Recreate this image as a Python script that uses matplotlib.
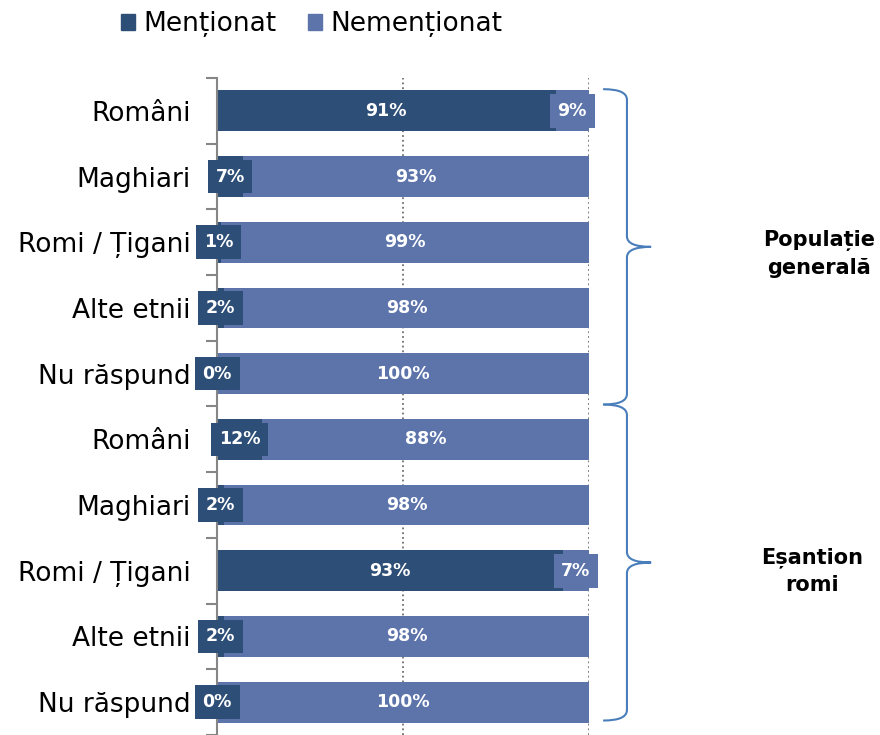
import matplotlib
matplotlib.use("Agg")
import matplotlib.pyplot as plt
from matplotlib.patches import Patch, PathPatch
from matplotlib.path import Path
import numpy as np

categories = ["Români", "Maghiari", "Romi / Țigani", "Alte etnii", "Nu răspund",
              "Români", "Maghiari", "Romi / Țigani", "Alte etnii", "Nu răspund"]
mentioned = [91, 7, 1, 2, 0, 12, 2, 93, 2, 0]
not_mentioned = [9, 93, 99, 98, 100, 88, 98, 7, 98, 100]
series_names = ["Menționat", "Nemenționat"]
group_names = ["Populație\ngenerală", "Eșantion\nromi"]

dark = "#2D4E76"
light = "#5D74AB"
brace_col = "#4A7EBB"

fig = plt.figure(figsize=(8.8, 7.35), dpi=100)
ax = fig.add_axes([217 / 880, 0.0, 372 / 880, 657 / 735])

y = np.arange(len(categories))
ax.barh(y, mentioned, height=0.62, color=dark, zorder=2)
ax.barh(y, not_mentioned, left=mentioned, height=0.62, color=light, zorder=2)

for i in range(len(categories)):
    m, n = mentioned[i], not_mentioned[i]
    for c, v, col in [(m / 2, m, dark), (m + n / 2, n, light)]:
        ax.text(c, i, f"{v}%", ha="center", va="center", color="white",
                fontsize=12.5, fontweight="bold", zorder=5,
                bbox=dict(boxstyle="square,pad=0.45", fc=col, ec="none"))

ax.set_xlim(0, 100)
ax.set_ylim(9.44, -0.5)
ax.set_xticks([0, 50, 100])
ax.xaxis.grid(True, linestyle=":", color="#707070", linewidth=1.3)
ax.set_axisbelow(True)
ax.tick_params(axis="x", length=0, labelbottom=False)

ax.set_yticks(np.arange(-0.5, 10, 1.0))
ax.set_yticklabels([])
ax.tick_params(axis="y", which="major", length=8, color="#868686", width=1.5)
ax.set_yticks(y, minor=True)
ax.set_yticklabels(categories, minor=True, fontsize=19)
ax.tick_params(axis="y", which="minor", length=0, pad=19)

for s in ["top", "right", "bottom"]:
    ax.spines[s].set_visible(False)
ax.spines["left"].set_color("#868686")
ax.spines["left"].set_linewidth(1.5)


def brace(ytop, ybot, x0=103.8, xm=110.2, xt=116.7, r=0.16):
    ymid = (ytop + ybot) / 2
    verts = [(x0, ytop), (xm, ytop), (xm, ytop + r),
             (xm, ymid - r),
             (xm, ymid), (xt, ymid),
             (xm, ymid), (xm, ymid + r),
             (xm, ybot - r),
             (xm, ybot), (x0, ybot)]
    codes = [Path.MOVETO, Path.CURVE3, Path.CURVE3,
             Path.LINETO,
             Path.CURVE3, Path.CURVE3,
             Path.CURVE3, Path.CURVE3,
             Path.LINETO,
             Path.CURVE3, Path.CURVE3]
    ax.add_patch(PathPatch(Path(verts, codes), fc="none", ec=brace_col,
                           lw=1.5, clip_on=False))


brace(-0.33, 4.47)
brace(4.47, 9.28)

fig.text(819 / 880, 1 - 254 / 735, group_names[0], ha="center", va="center",
         fontsize=15, fontweight="bold", linespacing=1.45)
fig.text(812 / 880, 1 - 571 / 735, group_names[1], ha="center", va="center",
         fontsize=15, fontweight="bold", linespacing=1.45)

handles = [Patch(color=dark), Patch(color=light)]
fig.legend(handles, series_names, loc="center", bbox_to_anchor=(0.354, 1 - 24 / 735),
           ncol=2, frameon=False, fontsize=19, handlelength=0.55, handleheight=0.55,
           handletextpad=0.3, columnspacing=1.2)

fig.savefig("out.png", dpi=100)
